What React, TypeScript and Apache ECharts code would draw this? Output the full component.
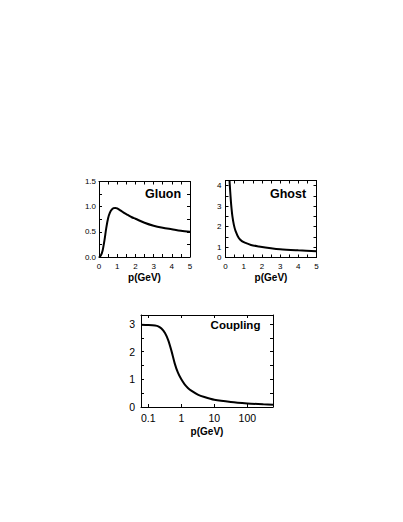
import React, { useEffect, useRef } from "react";
import * as echarts from "echarts";

// Gluon propagator
const gluonP = [0, 0.1, 0.2, 0.3, 0.4, 0.5, 0.6, 0.7, 0.8, 0.9, 1.0, 1.2, 1.4, 1.6, 1.8, 2.0, 2.5, 3.0, 3.5, 4.0, 4.5, 5.0];
const gluonV = [0, 0.03, 0.13, 0.33, 0.58, 0.77, 0.88, 0.94, 0.97, 0.975, 0.965, 0.92, 0.87, 0.83, 0.79, 0.76, 0.68, 0.62, 0.58, 0.55, 0.52, 0.5];

// Ghost dressing function
const ghostP = [0.22, 0.26, 0.3, 0.33, 0.38, 0.46, 0.55, 0.73, 0.9, 1.1, 1.4, 1.83, 2.5, 3, 4, 5];
const ghostV = [4.25, 3.7, 3.2, 2.9, 2.5, 2.09, 1.8, 1.45, 1.3, 1.21, 1.11, 1.04, 0.95, 0.9, 0.85, 0.81];

// Running coupling
const couplingP = [0.06, 0.1, 0.16, 0.2, 0.25, 0.32, 0.4, 0.5, 0.63, 0.79, 1, 1.26, 1.58, 2, 3.16, 5, 10, 31.6, 100, 316, 600];
const couplingV = [2.98, 2.97, 2.95, 2.92, 2.84, 2.68, 2.42, 2.04, 1.58, 1.24, 1.0, 0.82, 0.69, 0.59, 0.45, 0.36, 0.26, 0.18, 0.13, 0.095, 0.08];

const panelTitles = ["Gluon", "Ghost", "Coupling"];
const xName = "p(GeV)";

const FONT = "'Liberation Sans', Arial, Helvetica, sans-serif";

const isMult = (v: number, m: number) => Math.abs(v / m - Math.round(v / m)) < 1e-6;

const axisLine = { show: true, onZero: false, lineStyle: { color: "#000", width: 1 } };
const tick = { show: true, inside: true, length: 3, lineStyle: { color: "#000", width: 1 } };

function App() {
  const ref = useRef<HTMLDivElement>(null);
  useEffect(() => {
    if (!ref.current) return;
    const chart = echarts.init(ref.current, null, { renderer: "svg" });
    const nameStyle = { fontWeight: "bold", fontSize: 10, color: "#000", fontFamily: FONT };
    const mirrorX = (gridIndex: number, extra: any) => ({
      gridIndex,
      position: "top",
      axisLine,
      axisTick: tick,
      axisLabel: { show: false },
      splitLine: { show: false },
      ...extra,
    });
    const mirrorY = (gridIndex: number, extra: any) => ({
      gridIndex,
      position: "right",
      axisLine,
      axisTick: tick,
      axisLabel: { show: false },
      splitLine: { show: false },
      ...extra,
    });
    const lineSeries = (xi: number, yi: number, p: number[], v: number[]) => ({
      type: "line",
      xAxisIndex: xi,
      yAxisIndex: yi,
      data: p.map((x, i) => [x, v[i]]),
      showSymbol: false,
      smooth: 0.3,
      clip: true,
      lineStyle: { color: "#000", width: 2 },
      itemStyle: { color: "#000" },
    });
    const option: any = {
      animation: false,
      backgroundColor: "#fff",
      grid: [
        { left: 99, top: 181.5, width: 91, height: 75.5 },
        { left: 225.5, top: 180.5, width: 91, height: 77 },
        { left: 141, top: 315, width: 132, height: 92 },
      ],
      xAxis: [
        {
          gridIndex: 0, type: "value", min: 0, max: 5, interval: 0.5, position: "bottom",
          axisLine, axisTick: tick, splitLine: { show: false },
          axisLabel: { margin: 5, fontSize: 8, color: "#000", fontFamily: FONT, formatter: (v: number) => (isMult(v, 1) ? String(Math.round(v)) : "") },
          name: xName, nameLocation: "middle", nameGap: 15, nameTextStyle: nameStyle,
        },
        {
          gridIndex: 1, type: "value", min: 0, max: 5, interval: 0.5, position: "bottom",
          axisLine, axisTick: tick, splitLine: { show: false },
          axisLabel: { margin: 5, fontSize: 8, color: "#000", fontFamily: FONT, formatter: (v: number) => (isMult(v, 1) ? String(Math.round(v)) : "") },
          name: xName, nameLocation: "middle", nameGap: 15, nameTextStyle: nameStyle,
        },
        {
          gridIndex: 2, type: "log", logBase: 10, min: 0.06, max: 600, position: "bottom",
          axisLine, axisTick: tick, splitLine: { show: false },
          axisLabel: {
            margin: 5, fontSize: 10.5, color: "#000", fontFamily: FONT,
            formatter: (v: number) => {
              const l = Math.log10(v);
              if (Math.abs(l - Math.round(l)) > 1e-6) return "";
              const n = Math.round(l);
              return n < 0 ? Math.pow(10, n).toFixed(-n) : String(Math.pow(10, n));
            },
          },
          name: xName, nameLocation: "middle", nameGap: 19, nameTextStyle: nameStyle,
        },
        mirrorX(0, { type: "value", min: 0, max: 5, interval: 0.5 }),
        mirrorX(1, { type: "value", min: 0, max: 5, interval: 0.5 }),
        mirrorX(2, { type: "log", logBase: 10, min: 0.06, max: 600 }),
      ],
      yAxis: [
        {
          gridIndex: 0, type: "value", min: 0, max: 1.5, interval: 0.25, position: "left",
          axisLine, axisTick: tick, splitLine: { show: false },
          axisLabel: { margin: 3, fontSize: 8, color: "#000", fontFamily: FONT, formatter: (v: number) => (isMult(v, 0.5) ? v.toFixed(1) : "") },
        },
        {
          gridIndex: 1, type: "value", min: 0.5, max: 4.25, interval: 0.5, position: "left",
          axisLine, axisTick: tick, splitLine: { show: false },
          axisLabel: {
            margin: 4, fontSize: 8, color: "#000", fontFamily: FONT,
            formatter: (v: number) => (Math.abs(v - 0.5) < 1e-6 ? "0" : isMult(v, 1) ? String(Math.round(v)) : ""),
          },
        },
        {
          gridIndex: 2, type: "value", min: 0, max: 3.33, interval: 0.5, position: "left",
          axisLine, axisTick: tick, splitLine: { show: false },
          axisLabel: { margin: 6, fontSize: 10.5, color: "#000", fontFamily: FONT, formatter: (v: number) => (isMult(v, 1) ? String(Math.round(v)) : "") },
        },
        mirrorY(0, { type: "value", min: 0, max: 1.5, interval: 0.25 }),
        mirrorY(1, { type: "value", min: 0.5, max: 4.25, interval: 0.5 }),
        mirrorY(2, { type: "value", min: 0, max: 3.33, interval: 0.5 }),
      ],
      series: [
        lineSeries(0, 0, gluonP, gluonV),
        lineSeries(1, 1, ghostP, ghostV),
        lineSeries(2, 2, couplingP, couplingV),
      ],
      graphic: [
        { type: "text", x: 163, y: 193.5, style: { text: panelTitles[0], fontSize: 12.5, fontWeight: "bold", fontFamily: FONT, fill: "#000", align: "center", verticalAlign: "middle" } },
        { type: "text", x: 288, y: 193.5, style: { text: panelTitles[1], fontSize: 12.5, fontWeight: "bold", fontFamily: FONT, fill: "#000", align: "center", verticalAlign: "middle" } },
        { type: "text", x: 235.5, y: 325, style: { text: panelTitles[2], fontSize: 11.5, fontWeight: "bold", fontFamily: FONT, fill: "#000", align: "center", verticalAlign: "middle" } },
      ],
    };
    chart.setOption(option);
    return () => chart.dispose();
  }, []);
  return (
    <div
      ref={ref}
      style={{ position: "absolute", left: 0, top: 0, width: 403, height: 522, background: "#fff" }}
    />
  );
}

export default App;
